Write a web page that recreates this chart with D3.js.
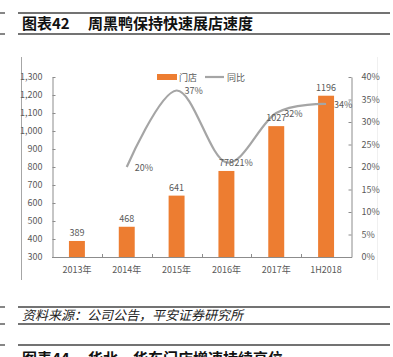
<!DOCTYPE html>
<html><head><meta charset="utf-8">
<script src="https://cdn.jsdelivr.net/npm/d3@7"></script>
<style>
html,body{margin:0;padding:0;background:#fff;overflow:hidden;}
svg{display:block;}
</style></head>
<body>
<svg id="c" width="393" height="357"></svg>
<script>
const categories = ["2013年","2014年","2015年","2016年","2017年","1H2018"];
const storeCounts = [389, 468, 641, 778, 1027, 1196];
const yoyGrowth = [null, 0.20, 0.37, 0.21, 0.32, 0.34];
const storeTicks = [300,400,500,600,700,800,900,1000,1100,1200,1300];
const pctTicks = [0,0.05,0.10,0.15,0.20,0.25,0.30,0.35,0.40];
const titleNo = "图表42";
const titleText = "周黑鸭保持快速展店速度";
const sourceText = "资料来源：公司公告，平安证券研究所";
const nextTitleNo = "图表44";
const nextTitleText = "华北、华东门店增速持续高位";
const legendLabels = ["门店","同比"];

const svg = d3.select("#c");
const font = "'Noto Sans CJK SC','Noto Sans',sans-serif";
const axisColor = "#8c8c8c", textColor = "#595959";
const orange = "#ED7D31", gray = "#A5A5A5";

// header / footer rules
function rule(y){
  svg.append("line").attr("x1",0).attr("x2",5).attr("y1",y).attr("y2",y).attr("stroke","#444").attr("stroke-width",1.3);
  svg.append("line").attr("x1",18).attr("x2",390).attr("y1",y).attr("y2",y).attr("stroke","#444").attr("stroke-width",1.3);
}
rule(13); rule(34); rule(307); rule(324); rule(345);
svg.append("text").attr("x",22).attr("y",29).attr("font-family",font).attr("font-weight",700)
  .attr("font-size",15).attr("fill","#111").text(titleNo);
svg.append("text").attr("x",88).attr("y",29).attr("font-family",font).attr("font-weight",700)
  .attr("font-size",15).attr("fill","#111").text(titleText);
svg.append("text").attr("x",22).attr("y",320).attr("font-family",font).attr("font-style","italic")
  .attr("font-size",13).attr("fill","#222").attr("transform","skewX(0)").text(sourceText);
svg.append("text").attr("x",22).attr("y",364).attr("font-family",font).attr("font-weight",700)
  .attr("font-size",15).attr("fill","#111").text(nextTitleNo);
svg.append("text").attr("x",88).attr("y",364).attr("font-family",font).attr("font-weight",700)
  .attr("font-size",15).attr("fill","#111").text(nextTitleText);

// chart frame
svg.append("line").attr("x1",21.5).attr("x2",21.5).attr("y1",57).attr("y2",280).attr("stroke","#a6a6a6");
svg.append("line").attr("x1",377.5).attr("x2",377.5).attr("y1",57).attr("y2",280).attr("stroke","#f0f0f0");

const L = 52, R = 351, T = 77, B = 257;
const x = d3.scaleBand().domain(categories).range([L,R]).padding(0);
const yL = d3.scaleLinear().domain([300,1300]).range([B,T]);
const yR = d3.scaleLinear().domain([0,0.4]).range([B,T]);
const bw = x.bandwidth()*0.32;

// bars
svg.append("g").selectAll("rect").data(categories).join("rect")
  .attr("x",(d)=>x(d)+x.bandwidth()/2-bw/2)
  .attr("width",bw)
  .attr("y",(d,i)=>yL(storeCounts[i]))
  .attr("height",(d,i)=>B-yL(storeCounts[i]))
  .attr("fill",orange);

// axes
const gl = svg.append("g").attr("transform",`translate(${L+0.5},0)`)
  .call(d3.axisLeft(yL).tickValues(storeTicks).tickFormat(d3.format(",")).tickSize(-3).tickSizeOuter(0).tickPadding(10));
const gr = svg.append("g").attr("transform",`translate(${R+0.5},0)`)
  .call(d3.axisRight(yR).tickValues(pctTicks).tickFormat(d3.format(".0%")).tickSize(-3).tickSizeOuter(0).tickPadding(10));
[gl,gr].forEach(g=>{
  g.selectAll("path,line").attr("stroke",axisColor);
  g.selectAll("text").attr("fill",textColor).attr("font-family",font).attr("font-size",9);
});

// x axis
const gx = svg.append("g");
gx.append("line").attr("x1",L).attr("x2",R+1).attr("y1",B+0.5).attr("y2",B+0.5).attr("stroke",axisColor);
gx.selectAll("line.t").data(categories.slice(1)).join("line").attr("class","t")
  .attr("x1",d=>Math.round(x(d))+0.5).attr("x2",d=>Math.round(x(d))+0.5)
  .attr("y1",B).attr("y2",B-3).attr("stroke",axisColor);
gx.selectAll("text").data(categories).join("text")
  .attr("x",d=>x(d)+x.bandwidth()/2).attr("y",273).attr("text-anchor","middle")
  .attr("fill",textColor).attr("font-family",font).attr("font-size",9).text(d=>d);

// line
const pts = categories.map((c,i)=>({c,v:yoyGrowth[i]})).filter(d=>d.v!=null);
const line = d3.line().x(d=>x(d.c)+x.bandwidth()/2).y(d=>yR(d.v)).curve(d3.curveCardinal.tension(0));
svg.append("path").datum(pts).attr("d",line).attr("fill","none").attr("stroke",gray).attr("stroke-width",2.2);

// bar labels
svg.append("g").selectAll("text").data(categories).join("text")
  .attr("x",d=>x(d)+x.bandwidth()/2).attr("y",(d,i)=>yL(storeCounts[i])-5)
  .attr("text-anchor","middle").attr("fill",textColor).attr("font-family",font).attr("font-size",9)
  .text((d,i)=>storeCounts[i]);

// line labels
svg.append("g").selectAll("text").data(pts).join("text")
  .attr("x",d=>x(d.c)+x.bandwidth()/2+8).attr("y",d=>yR(d.v)+3.5)
  .attr("fill",textColor).attr("font-family",font).attr("font-size",9)
  .text(d=>d3.format(".0%")(d.v));

// legend
const lg = svg.append("g");
lg.append("rect").attr("x",157).attr("y",74).attr("width",20).attr("height",6).attr("fill",orange);
lg.append("text").attr("x",179).attr("y",80.5).attr("fill",textColor).attr("font-family",font).attr("font-size",9).text(legendLabels[0]);
lg.append("line").attr("x1",205).attr("x2",224).attr("y1",77).attr("y2",77).attr("stroke",gray).attr("stroke-width",2.2);
lg.append("text").attr("x",227).attr("y",80.5).attr("fill",textColor).attr("font-family",font).attr("font-size",9).text(legendLabels[1]);
</script>
</body></html>
